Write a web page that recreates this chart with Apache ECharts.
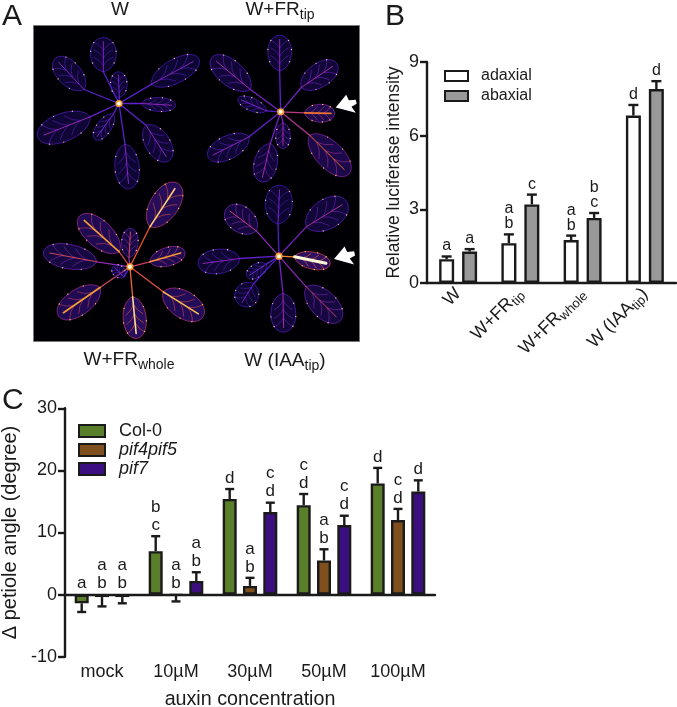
<!DOCTYPE html>
<html><head><meta charset="utf-8">
<style>html,body{margin:0;padding:0;background:#fff}#c{width:677px;height:707px}</style>
<script src="https://cdn.jsdelivr.net/npm/echarts@6/dist/echarts.min.js"></script>
</head><body><div id="c"></div>
<script>
// Panel B
const bCats = ['W', 'W+FR', 'W+FR', 'W (IAA'];
const bSubs = ['', 'tip', 'whole', 'tip'];
const bTails = ['', '', '', ')'];
const adaxial = [0.97, 1.62, 1.75, 6.82];
const adaxialErr = [1.08, 1.98, 1.93, 7.25];
const adaxialSig = ['a', 'a\nb', 'a\nb', 'd'];
const abaxial = [1.28, 3.2, 2.65, 7.9];
const abaxialErr = [1.38, 3.6, 2.85, 8.22];
const abaxialSig = ['a', 'c', 'b\nc', 'd'];
// Panel C
const cCats = ['mock', '10µM', '30µM', '50µM', '100µM'];
const col0 = [-1.4, 7, 15.4, 14.4, 17.9];
const col0Err = [-2.8, 9.4, 17, 16.2, 20.4];
const col0Sig = ['a', 'b\nc', 'd', 'c\nd', 'd'];
const pif45 = [-0.4, -0.1, 1.4, 5.5, 12];
const pif45Err = [-1.9, -1.1, 2.7, 7.3, 13.8];
const pif45Sig = ['a\nb', 'a\nb', 'a\nb', 'a\nb', 'c\nd'];
const pif7 = [-0.4, 2.2, 13.3, 11.2, 16.6];
const pif7Err = [-1.4, 3.6, 14.8, 12.7, 18.4];
const pif7Sig = ['a\nb', 'a\nb', 'c\nd', 'c\nd', 'd'];
// Panel A: rosette hearts and leaves [baseX, baseY, tipX, tipY, width, heat, rosette]
const hearts = [[357, 310], [843, 335], [390, 800], [838, 768]];
const leaves = [
  [310,215,310,112,78,.18,0],[252,268,165,175,72,.18,0],[358,292,355,215,50,.15,0],[455,252,597,175,72,.2,0],
  [425,310,527,316,42,.22,0],[270,350,113,412,85,.25,0],[340,342,285,418,44,.16,0],[438,375,507,482,74,.22,0],[375,432,387,566,74,.2,0],
  [840,212,840,105,72,.22,1],[752,268,636,172,76,.3,1],[905,262,1012,190,72,.3,1],[800,332,715,295,38,.16,1],
  [915,338,1005,340,54,.62,1],[748,410,625,472,70,.22,1],[850,368,850,445,44,.3,1],[812,430,785,545,70,.3,1],[930,405,1048,522,82,.58,1],
  [450,680,535,550,86,.85,2],[358,755,238,648,80,.72,2],[387,772,392,685,50,.45,2],[450,785,555,755,56,.7,2],
  [290,785,130,755,74,.45,2],[300,862,175,948,78,.72,2],[398,890,410,1015,70,.9,2],[490,875,610,950,82,.8,2],[372,830,340,798,36,.15,2],
  [835,672,840,555,82,.15,3],[770,692,680,625,78,.42,3],[920,680,1042,605,90,.32,3],[885,770,992,792,52,1,3],
  [720,775,595,792,74,.22,3],[800,792,742,830,40,.14,3],[762,850,722,915,72,.14,3],[850,880,852,996,76,.3,3],[920,860,1022,962,80,.42,3]
];
const arrowPoints = [[1040, 311], [1035, 766]];
const heatStops = ['#2a12a8', '#5a1fd0', '#a32ba8', '#e8552e', '#fbb03a', '#fff8d8'];
const photoTitles = [
  ['W', '', '', 120, 10], ['W+FR', 'tip', '', 280, 10],
  ['W+FR', 'whole', '', 129, 360], ['W (IAA', 'tip', ')', 285, 361]
];
const panelLetters = [['A', 2, 2], ['B', 385, 2], ['C', 2, 386]];

const FONT = '"Liberation Sans", Arial, sans-serif';
const BLACK = '#1a1a1a';
const hex = h => [1, 3, 5].map(i => parseInt(h.substr(i, 2), 16));
function heatColor(v, alpha) {
  const p = Math.min(.999, Math.max(0, v)) * (heatStops.length - 1), i = Math.floor(p), f = p - i;
  const a = hex(heatStops[i]), b = hex(heatStops[i + 1]);
  return 'rgba(' + a.map((x, k) => Math.round(x + (b[k] - x) * f)).join(',') + ',' + (alpha == null ? 1 : alpha) + ')';
}
function bez(p0, p1, p2, p3, t) {
  const m = 1 - t;
  return [0, 1].map(k => m*m*m*p0[k] + 3*m*m*t*p1[k] + 3*m*t*t*p2[k] + t*t*t*p3[k]);
}
function renderLeaf(params, api) {
  const b = api.coord([api.value(0), api.value(1)]), t = api.coord([api.value(2), api.value(3)]);
  const heat = api.value(5), hc = api.coord(hearts[api.value(6)]);
  const w = api.size([api.value(4), 0])[0];
  const dx = t[0] - b[0], dy = t[1] - b[1], L = Math.hypot(dx, dy);
  const u = [dx / L, dy / L], n = [-u[1], u[0]];
  const at = (a, s) => [b[0] + u[0]*a*L + n[0]*s*w, b[1] + u[1]*a*L + n[1]*s*w];
  const sides = [1, -1].map(s => [at(.1, .66*s), at(.98, .66*s)]);
  const d = 'M' + b + 'C' + sides[0][0] + ' ' + sides[0][1] + ' ' + t + 'C' + sides[1][1] + ' ' + sides[1][0] + ' ' + b + 'Z';
  const kids = [{
    type: 'path', shape: { pathData: d },
    style: { fill: heatColor(heat * .22, .22 + heat * .25), stroke: heatColor(.06 + heat * .5, .75), lineWidth: .9 }
  }];
  const line = (a, c, col, lw, ctrl) => ({
    type: ctrl ? 'bezierCurve' : 'line',
    shape: ctrl ? { x1: a[0], y1: a[1], x2: c[0], y2: c[1], cpx1: ctrl[0], cpy1: ctrl[1] } : { x1: a[0], y1: a[1], x2: c[0], y2: c[1] },
    style: { stroke: col, lineWidth: lw, fill: null, lineCap: 'round' }
  });
  kids.push(line(hc, b, heatColor(.08 + heat * .62), 1.3));
  [.18, .4, .62].forEach(a => [1, -1].forEach(s => {
    kids.push(line(at(a, 0), at(a + .24, .36 * s), heatColor(.06 + heat * .62, .7), .8, at(a + .15, .1 * s)));
  }));
  kids.push(line(b, at(.88, 0), heatColor(.14 + heat * .86), heat > .9 ? 3 : heat > .6 ? 1.6 : 1));
  [.3, .55, .75].forEach(tv => sides.forEach(sd => {
    const pt = bez(b, sd[0], sd[1], t, tv);
    kids.push({ type: 'circle', shape: { cx: pt[0], cy: pt[1], r: .7 }, style: { fill: heat > .5 ? '#ffb860' : '#f0c0a8' } });
  }));
  return { type: 'group', children: kids };
}
function renderHeart(params, api) {
  const c = api.coord([api.value(0), api.value(1)]);
  return { type: 'group', children: [
    { type: 'circle', shape: { cx: c[0], cy: c[1], r: 3.6 }, style: { fill: '#f79a2a' } },
    { type: 'circle', shape: { cx: c[0], cy: c[1], r: 2 }, style: { fill: '#fffbe8' } }
  ] };
}
function errRenderer(offset, sigs, step, fontSize, capW, lift) {
  return function (params, api) {
    const cat = api.value(0), val = api.value(1), end = api.value(2);
    const p0 = api.coord([cat, val]), p1 = api.coord([cat, end]);
    const x = p0[0] + offset;
    const anchor = api.coord([cat, Math.max(end, 0)])[1];
    const style = { stroke: BLACK, lineWidth: 2.4, fill: null };
    return { type: 'group', children: [
      { type: 'line', shape: { x1: x, y1: p0[1], x2: x, y2: p1[1] }, style },
      { type: 'line', shape: { x1: x - capW / 2, y1: p1[1], x2: x + capW / 2, y2: p1[1] }, style },
      { type: 'text', style: {
        text: sigs[params.dataIndex], x: x, y: anchor - lift, align: 'center', verticalAlign: 'bottom',
        fontSize: fontSize, lineHeight: step, fontFamily: FONT, fill: BLACK } }
    ] };
  };
}
const barSeries = (name, vals, color, ax, w, gap) => ({
  name, type: 'bar', data: vals, xAxisIndex: ax, yAxisIndex: ax, barWidth: w, barGap: gap,
  itemStyle: { color, borderColor: BLACK, borderWidth: 2.4 }
});
const errSeries = (vals, errs, sigs, ax, off, step, fs, cap, lift) => ({
  type: 'custom', xAxisIndex: ax, yAxisIndex: ax, z: 1,
  data: vals.map((v, i) => [i, v, errs[i]]),
  encode: { x: 0, y: [1, 2] },
  renderItem: errRenderer(off, sigs, step, fs, cap, lift), silent: true
});
const subLabel = (v, i) => bSubs[i] ? '{n|' + v + '}{s|' + bSubs[i] + '}' + (bTails[i] ? '{n|' + bTails[i] + '}' : '') : '{n|' + v + '}';
const hiddenValue = (min, max, inverse, gridIndex) => ({ type: 'value', gridIndex, min, max, inverse, show: false, splitLine: { show: false } });
const axisLine = { show: true, lineStyle: { color: BLACK, width: 2.4 } };
const yAxisCommon = {
  type: 'value', axisLine, axisTick: { show: true, length: 7, lineStyle: { color: BLACK, width: 2.4 } },
  splitLine: { show: false }, nameLocation: 'middle',
  axisLabel: { fontFamily: FONT, fontSize: 18, color: BLACK, margin: 8 }
};
const titleGraphics = photoTitles.map(tt => ({
  type: 'text', x: tt[3], y: tt[4], style: {
    text: '{n|' + tt[0] + '}' + (tt[1] ? '{s|' + tt[1] + '}' : '') + (tt[2] ? '{n|' + tt[2] + '}' : ''),
    align: 'center', verticalAlign: 'middle', fontFamily: FONT, fill: BLACK,
    rich: { n: { fontSize: 19, fontFamily: FONT, fill: BLACK, lineHeight: 24 }, s: { fontSize: 14, fontFamily: FONT, fill: BLACK, verticalAlign: 'bottom', lineHeight: 12 } }
  }
}));
const letterGraphics = panelLetters.map(l => ({
  type: 'text', x: l[1], y: l[2], style: { text: l[0], fontFamily: FONT, fontSize: 30, fill: BLACK }
}));
const legendBase = { orient: 'vertical', selectedMode: false, icon: 'rect', padding: 0 };
const legendText = (pad, size) => ({ fontFamily: FONT, fontSize: size, color: BLACK, padding: [0, 0, 0, pad] });
const chart = echarts.init(document.getElementById('c'), null, { renderer: 'canvas' });
chart.setOption({
  animation: false,
  backgroundColor: '#fff',
  graphic: titleGraphics.concat(letterGraphics),
  legend: [
    Object.assign({}, legendBase, { left: 444, top: 68, itemWidth: 23, itemHeight: 10, itemGap: 4, textStyle: legendText(8, 16), data: ['adaxial', 'abaxial'] }),
    Object.assign({}, legendBase, { left: 78, top: 422, itemWidth: 26, itemHeight: 12, itemGap: 1, textStyle: legendText(9, 18),
      data: ['Col-0', { name: 'pif4pif5', textStyle: { fontStyle: 'italic' } }, { name: 'pif7', textStyle: { fontStyle: 'italic' } }] })
  ],
  grid: [
    { outerBoundsMode: 'none', left: 33.5, top: 25.5, width: 326, height: 316, show: true, backgroundColor: '#000004', borderColor: '#777', borderWidth: 1 },
    { outerBoundsMode: 'none', left: 427, top: 62, width: 249, height: 221 },
    { outerBoundsMode: 'none', left: 65, top: 408.3, width: 370, height: 248.4 }
  ],
  xAxis: [
    hiddenValue(100, 1080, false, 0),
    { type: 'category', gridIndex: 1, data: bCats, axisLine, axisTick: { show: false },
      axisLabel: { rotate: 45, interval: 0, margin: 8, formatter: subLabel, fontFamily: FONT, color: BLACK,
        rich: { n: { fontSize: 18, fontFamily: FONT, color: BLACK, lineHeight: 22 }, s: { fontSize: 13, fontFamily: FONT, color: BLACK, verticalAlign: 'bottom', lineHeight: 12 } } } },
    { type: 'category', gridIndex: 2, data: cCats, axisLine, axisTick: { show: false },
      axisLabel: { margin: 6.5, interval: 0, fontFamily: FONT, fontSize: 18, color: BLACK },
      name: 'auxin concentration', nameLocation: 'middle', nameGap: 33,
      nameTextStyle: { fontFamily: FONT, fontSize: 19.7, color: BLACK } }
  ],
  yAxis: [
    hiddenValue(76, 1024, true, 0),
    Object.assign({}, yAxisCommon, { gridIndex: 1, min: 0, max: 9, interval: 3, name: 'Relative luciferase intensity', nameGap: 24,
      nameTextStyle: { fontFamily: FONT, fontSize: 17.5, color: BLACK } }),
    Object.assign({}, yAxisCommon, { gridIndex: 2, min: -10, max: 30, interval: 10, name: 'Δ petiole angle (degree)', nameGap: 40,
      nameTextStyle: { fontFamily: FONT, fontSize: 20, color: BLACK } })
  ],
  series: [
    { type: 'custom', xAxisIndex: 0, yAxisIndex: 0, data: leaves, encode: { x: [0, 2], y: [1, 3] }, renderItem: renderLeaf, silent: true, clip: true },
    { type: 'custom', xAxisIndex: 0, yAxisIndex: 0, data: hearts, encode: { x: 0, y: 1 }, renderItem: renderHeart, silent: true, z: 3 },
    { type: 'scatter', xAxisIndex: 0, yAxisIndex: 0, data: arrowPoints, symbolSize: [21, 18], silent: true, z: 4,
      symbol: 'path://M0 21L12 0L15 9L23 8L24 15L18 20L23 30Z', itemStyle: { color: '#fff', opacity: 1 } },
    barSeries('adaxial', adaxial, '#fff', 1, 15, '53%'),
    barSeries('abaxial', abaxial, '#999', 1, 15, '53%'),
    errSeries(adaxial, adaxialErr, adaxialSig, 1, -11.5, 15, 16, 10, 3),
    errSeries(abaxial, abaxialErr, abaxialSig, 1, 11.5, 15, 16, 10, 3),
    barSeries('Col-0', col0, '#5a7f2a', 2, 14, '45%'),
    barSeries('pif4pif5', pif45, '#7f4f1e', 2, 14, '45%'),
    barSeries('pif7', pif7, '#3c0f80', 2, 14, '45%'),
    errSeries(col0, col0Err, col0Sig, 2, -20.3, 18, 17, 9, 2),
    errSeries(pif45, pif45Err, pif45Sig, 2, 0, 18, 17, 9, 2),
    errSeries(pif7, pif7Err, pif7Sig, 2, 20.3, 18, 17, 9, 2)
  ]
});
</script></body></html>
